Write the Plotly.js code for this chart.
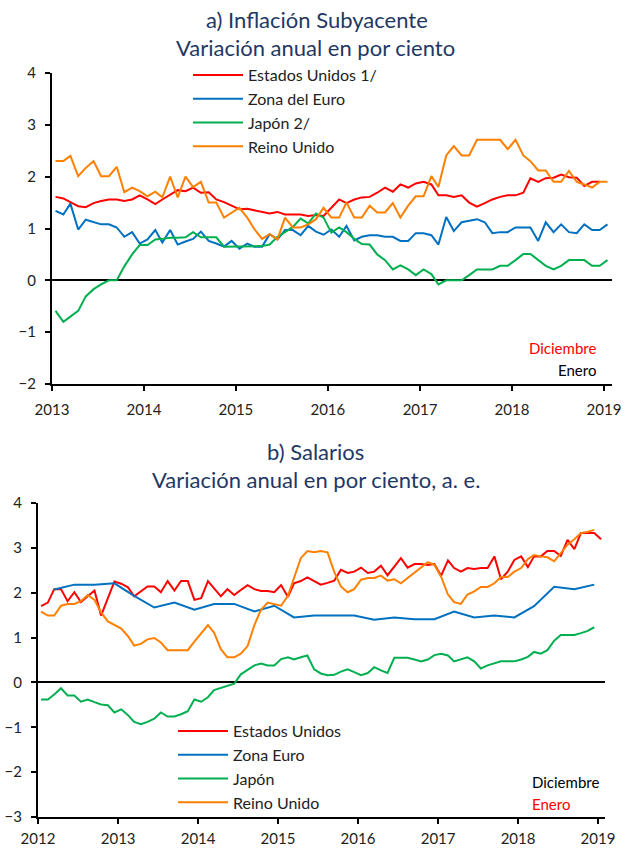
<!DOCTYPE html>
<html>
<head>
<meta charset="utf-8">
<script src="https://cdn.plot.ly/plotly-3.0.1.min.js"></script>
<style>html,body{margin:0;padding:0;background:#fff;}#chart{width:629px;height:849px;}</style>
</head>
<body>
<div id="chart"></div>
<script>
// ---------- Panel a) Inflación subyacente (monthly, Jan 2013 ...) ----------
const inflStart = [2013, 1];
const inflUS = [1.61,1.58,1.51,1.43,1.41,1.49,1.53,1.56,1.56,1.53,1.56,1.64,1.56,1.47,1.56,1.66,1.74,1.72,1.79,1.69,1.70,1.56,1.51,1.44,1.37,1.38,1.35,1.32,1.29,1.32,1.27,1.27,1.27,1.24,1.26,1.24,1.40,1.56,1.49,1.56,1.60,1.61,1.69,1.79,1.71,1.85,1.79,1.87,1.90,1.85,1.64,1.64,1.61,1.64,1.50,1.42,1.49,1.56,1.61,1.64,1.64,1.69,1.97,1.90,1.97,1.98,2.04,1.99,1.98,1.82,1.90,1.90];
const inflEuro = [1.34,1.27,1.48,0.98,1.17,1.12,1.08,1.08,1.02,0.84,0.93,0.71,0.79,0.97,0.73,0.97,0.69,0.75,0.80,0.94,0.76,0.71,0.65,0.76,0.61,0.71,0.65,0.65,0.89,0.79,0.97,0.97,0.87,1.05,0.94,0.88,0.98,0.84,1.05,0.77,0.84,0.87,0.87,0.84,0.84,0.76,0.76,0.91,0.91,0.87,0.69,1.22,0.95,1.12,1.15,1.18,1.12,0.91,0.93,0.93,1.02,1.02,1.02,0.76,1.12,0.93,1.08,0.93,0.91,1.08,0.97,0.97,1.08];
const inflJapan = [-0.59,-0.80,-0.70,-0.59,-0.31,-0.17,-0.08,0.0,0.0,0.27,0.50,0.68,0.68,0.79,0.80,0.82,0.82,0.83,0.93,0.83,0.83,0.83,0.65,0.65,0.65,0.65,0.65,0.66,0.69,0.84,0.93,1.03,1.19,1.10,1.29,1.21,0.92,1.02,0.93,0.80,0.70,0.69,0.50,0.39,0.21,0.29,0.21,0.10,0.21,0.12,-0.08,0.0,0.0,0.0,0.10,0.21,0.21,0.21,0.28,0.28,0.39,0.51,0.51,0.39,0.28,0.21,0.28,0.39,0.39,0.39,0.28,0.28,0.39];
const inflUK = [2.30,2.30,2.40,2.01,2.17,2.30,2.01,2.01,2.19,1.70,1.79,1.72,1.62,1.71,1.60,2.00,1.60,2.00,1.80,1.90,1.50,1.50,1.21,1.31,1.40,1.21,0.99,0.80,0.89,0.79,1.21,1.02,1.02,1.08,1.18,1.40,1.21,1.21,1.50,1.21,1.21,1.44,1.31,1.31,1.49,1.21,1.44,1.62,1.62,2.01,1.80,2.41,2.59,2.41,2.41,2.71,2.71,2.71,2.71,2.53,2.71,2.41,2.30,2.12,2.12,1.90,1.90,2.11,1.90,1.85,1.79,1.90,1.90];
const inflNames = ['Estados Unidos 1/','Zona del Euro','Japón 2/','Reino Unido'];

// ---------- Panel b) Salarios (monthly from Jan 2012; Euro zone quarterly) ----------
const wageStart = [2012, 1];
const wageUS = [1.70,1.78,2.08,2.08,1.81,2.01,1.79,1.92,2.05,1.49,1.88,2.25,2.20,2.12,1.92,2.03,2.14,2.14,2.01,2.26,2.05,2.26,2.26,1.84,1.88,2.26,2.11,1.92,2.08,1.95,2.06,2.17,2.08,2.04,2.04,2.01,2.17,1.91,2.21,2.26,2.34,2.26,2.18,2.22,2.27,2.51,2.44,2.47,2.56,2.44,2.47,2.60,2.39,2.58,2.77,2.56,2.64,2.64,2.62,2.64,2.38,2.72,2.55,2.47,2.55,2.53,2.55,2.55,2.81,2.30,2.47,2.73,2.81,2.57,2.81,2.81,2.93,2.93,2.82,3.18,2.97,3.33,3.33,3.33,3.19];
const wageEuroStart = [2012, 3]; // quarterly values, plotted at quarter-end month
const wageEuro = [2.07,2.18,2.18,2.21,1.93,1.67,1.78,1.62,1.75,1.75,1.58,1.71,1.45,1.49,1.49,1.49,1.40,1.45,1.41,1.41,1.58,1.45,1.49,1.45,1.70,2.13,2.08,2.18];
const wageJapan = [-0.38,-0.38,-0.27,-0.13,-0.29,-0.29,-0.43,-0.38,-0.44,-0.49,-0.51,-0.67,-0.60,-0.73,-0.88,-0.93,-0.88,-0.81,-0.67,-0.76,-0.76,-0.71,-0.64,-0.38,-0.43,-0.33,-0.17,-0.12,-0.08,-0.03,0.18,0.28,0.38,0.42,0.38,0.38,0.52,0.56,0.51,0.56,0.60,0.29,0.20,0.16,0.17,0.24,0.29,0.23,0.16,0.21,0.34,0.27,0.21,0.55,0.55,0.55,0.51,0.47,0.51,0.61,0.64,0.60,0.47,0.51,0.56,0.47,0.31,0.38,0.42,0.47,0.47,0.47,0.51,0.57,0.68,0.64,0.72,0.93,1.06,1.06,1.06,1.10,1.15,1.23];
const wageUK = [1.58,1.49,1.49,1.71,1.75,1.75,1.81,1.95,1.84,1.56,1.36,1.29,1.20,1.03,0.82,0.86,0.96,0.99,0.89,0.72,0.72,0.72,0.72,0.91,1.10,1.28,1.11,0.74,0.56,0.56,0.64,0.81,1.28,1.62,1.78,1.75,1.71,1.93,2.35,2.77,2.93,2.90,2.93,2.90,2.46,2.14,2.01,2.08,2.29,2.33,2.33,2.38,2.27,2.30,2.21,2.33,2.44,2.57,2.68,2.62,2.35,1.96,1.79,1.75,1.96,2.03,2.13,2.13,2.21,2.35,2.35,2.47,2.55,2.75,2.84,2.81,2.79,2.70,2.88,3.07,3.19,3.33,3.36,3.40];
const wageNames = ['Estados Unidos','Zona Euro','Japón','Reino Unido'];

const colors = ['#FF0000','#0070C0','#00B050','#FF8000'];

function dates(start, n, stepMonths) {
  const out = [];
  for (let i = 0; i < n; i++) {
    const m0 = (start[1] - 1) + i * stepMonths;
    const y = start[0] + Math.floor(m0 / 12);
    const m = (m0 % 12) + 1;
    out.push(y + '-' + String(m).padStart(2, '0') + '-15');
  }
  return out;
}

const FONT = 'Lato, "Open Sans", "DejaVu Sans", sans-serif';
const W = 629, H = 849;
const px = v => v / W, py = v => 1 - v / H;

const traces = [];
[inflUS, inflEuro, inflJapan, inflUK].forEach((vals, k) => {
  traces.push({
    x: dates(inflStart, vals.length, 1), y: vals, type: 'scatter', mode: 'lines',
    name: inflNames[k], line: {color: colors[k], width: 2},
    xaxis: 'x', yaxis: 'y', legend: 'legend', legendgroup: 'a' + k
  });
});
const wageSeries = [
  {v: wageUS, s: wageStart, step: 1},
  {v: wageEuro, s: wageEuroStart, step: 3},
  {v: wageJapan, s: wageStart, step: 1},
  {v: wageUK, s: wageStart, step: 1}
];
wageSeries.forEach((o, k) => {
  traces.push({
    x: dates(o.s, o.v.length, o.step), y: o.v, type: 'scatter', mode: 'lines',
    name: wageNames[k], line: {color: colors[k], width: 2},
    xaxis: 'x2', yaxis: 'y2', legend: 'legend2', legendgroup: 'b' + k
  });
});

const axisCommon = {
  showline: true, linecolor: '#000', linewidth: 2, showgrid: false,
  ticks: 'outside', ticklen: 5, tickwidth: 2, tickcolor: '#000',
  tickfont: {family: FONT, size: 15, color: '#222'},
  zeroline: false, fixedrange: true
};

const titleColor = '#1F3864';
const legendFont = {family: FONT, size: 16, color: '#222'};
const layout = {
  width: W, height: H,
  margin: {l: 0, r: 0, t: 0, b: 0},
  paper_bgcolor: '#fff', plot_bgcolor: '#fff',
  showlegend: true,
  font: {family: FONT, color: '#222'},
  xaxis: Object.assign({}, axisCommon, {
    type: 'date', domain: [px(52), px(612)], range: ['2013-01-01', '2019-02-02'],
    tick0: '2013-01-01', dtick: 'M12', tickformat: '%Y', anchor: 'y', ticklabelstandoff: 6
  }),
  yaxis: Object.assign({}, axisCommon, {
    domain: [py(384), py(73)], range: [-2, 4], dtick: 1, anchor: 'x',
    zeroline: true, zerolinecolor: '#000', zerolinewidth: 2, ticklabelstandoff: 6
  }),
  xaxis2: Object.assign({}, axisCommon, {
    type: 'date', domain: [px(38), px(605)], range: ['2012-01-01', '2019-02-02'],
    tick0: '2012-01-01', dtick: 'M12', tickformat: '%Y', anchor: 'y2', ticklabelstandoff: 2
  }),
  yaxis2: Object.assign({}, axisCommon, {
    domain: [py(817), py(503)], range: [-3, 4], dtick: 1, anchor: 'x2',
    zeroline: true, zerolinecolor: '#000', zerolinewidth: 2, ticklabelstandoff: 6
  }),
  legend: {
    x: px(188), xanchor: 'left', y: py(58), yanchor: 'top',
    bgcolor: 'rgba(0,0,0,0)', borderwidth: 0, traceorder: 'grouped', tracegroupgap: 0,
    itemwidth: 50, font: legendFont
  },
  legend2: {
    x: px(173), xanchor: 'left', y: py(714), yanchor: 'top',
    bgcolor: 'rgba(0,0,0,0)', borderwidth: 0, traceorder: 'grouped', tracegroupgap: 0,
    itemwidth: 50, font: legendFont
  },
  annotations: [
    {text: 'a) Inflación Subyacente', x: px(317), y: py(20), xref: 'paper', yref: 'paper', showarrow: false,
     xanchor: 'center', yanchor: 'middle', font: {family: FONT, size: 22, color: titleColor}},
    {text: 'Variación anual en por ciento', x: px(316), y: py(48), xref: 'paper', yref: 'paper', showarrow: false,
     xanchor: 'center', yanchor: 'middle', font: {family: FONT, size: 22, color: titleColor}},
    {text: 'b) Salarios', x: px(316), y: py(451), xref: 'paper', yref: 'paper', showarrow: false,
     xanchor: 'center', yanchor: 'middle', font: {family: FONT, size: 22, color: titleColor}},
    {text: 'Variación anual en por ciento, a. e.', x: px(316), y: py(479), xref: 'paper', yref: 'paper', showarrow: false,
     xanchor: 'center', yanchor: 'middle', font: {family: FONT, size: 22, color: titleColor}},
    {text: 'Diciembre', x: px(598), y: py(348), xref: 'paper', yref: 'paper', showarrow: false,
     xanchor: 'right', yanchor: 'middle', font: {family: FONT, size: 15, color: '#FF0000'}},
    {text: 'Enero', x: px(598), y: py(370), xref: 'paper', yref: 'paper', showarrow: false,
     xanchor: 'right', yanchor: 'middle', font: {family: FONT, size: 15, color: '#000'}},
    {text: 'Diciembre', x: px(530), y: py(782), xref: 'paper', yref: 'paper', showarrow: false,
     xanchor: 'left', yanchor: 'middle', font: {family: FONT, size: 15, color: '#000'}},
    {text: 'Enero', x: px(530), y: py(804), xref: 'paper', yref: 'paper', showarrow: false,
     xanchor: 'left', yanchor: 'middle', font: {family: FONT, size: 15, color: '#FF0000'}}
  ]
};

Plotly.newPlot('chart', traces, layout, {staticPlot: true, displayModeBar: false});
</script>
</body>
</html>
